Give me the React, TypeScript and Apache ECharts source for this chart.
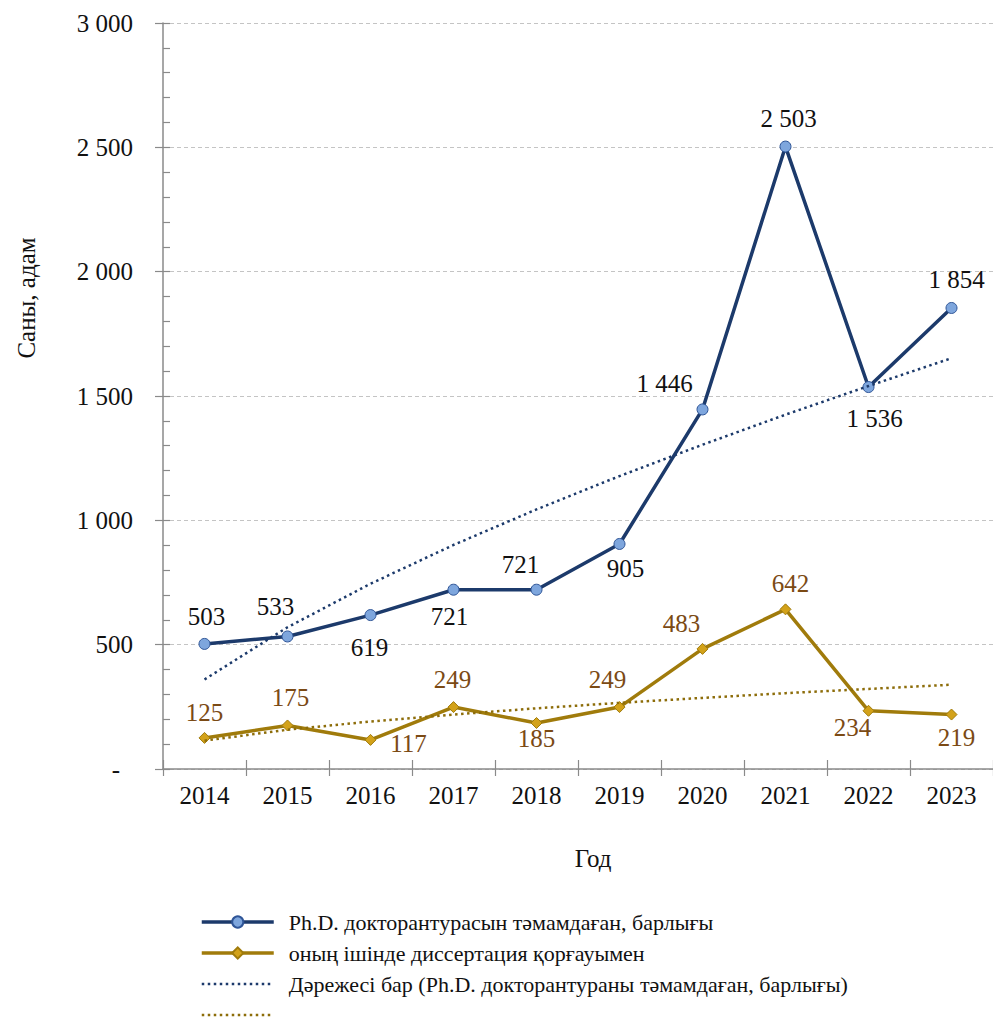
import React, { useEffect, useRef } from 'react';
import * as echarts from 'echarts';

// ---- data ----
const years = ['2014', '2015', '2016', '2017', '2018', '2019', '2020', '2021', '2022', '2023'];
const phdTotal = [503, 533, 619, 721, 721, 905, 1446, 2503, 1536, 1854];
const withDefense = [125, 175, 117, 249, 185, 249, 483, 642, 234, 219];
// power trendlines as drawn in the reference
const phdTrend = [360, 570, 745, 901, 1044, 1178, 1304, 1425, 1540, 1652];
const defenseTrend = [114, 158, 191, 219, 244, 266, 286, 305, 322, 339];

const nameTotal = 'Ph.D. докторантурасын тәмамдаған, барлығы';
const nameDefense = 'оның ішінде диссертация қорғауымен';
const nameTrendTotal = 'Дәрежесі бар (Ph.D. докторантураны тәмамдаған, барлығы)';
const nameTrendDefense = ' ';
const yAxisTitle = 'Саны, адам';
const xAxisTitle = 'Год';

// label placement (pixel offsets of each value label from its point)
const totalLabelOffsets = [
  [2, -27], [-12, -30], [-1, 32], [-4, 27], [-16, -25],
  [6, 25], [-38, -26], [3, -28], [6, 31], [5, -28],
];
const defenseLabelOffsets = [
  [0, -25], [3, -28], [38, 4], [-1, -28], [0, 16],
  [-12, -28], [-21, -25], [5, -26], [-16, 17], [5, 23],
];

const FONT = 'Liberation Serif';
const BLUE = '#1c3a6b';
const GOLD = '#a07b0b';
const GOLD_LABEL = '#7b4a14';

const fmt = (v: number) => String(v).replace(/\B(?=(\d{3})+(?!\d))/g, ' ');

export default function App() {
  const ref = useRef<HTMLDivElement>(null);

  useEffect(() => {
    const chart = echarts.init(ref.current!, null, { renderer: 'svg' });
    const option: any = {
      animation: false,
      backgroundColor: '#ffffff',
      textStyle: { fontFamily: FONT },
      grid: { left: 163, right: 0, top: 23, bottom: 249 },
      xAxis: [
        {
          type: 'category',
          data: years,
          boundaryGap: true,
          axisLine: { show: true, lineStyle: { color: '#8a8a8a', width: 1.5 } },
          axisTick: { show: true, inside: false, length: 7, lineStyle: { color: '#8a8a8a', width: 1.2 } },
          axisLabel: { fontFamily: FONT, fontSize: 25, color: '#111', margin: 14 },
          splitLine: { show: false },
        },
        {
          type: 'category',
          data: years,
          position: 'bottom',
          boundaryGap: true,
          axisLine: { show: false },
          axisTick: { show: true, inside: true, length: 9, lineStyle: { color: '#8a8a8a', width: 1.2 } },
          axisLabel: { show: false },
          splitLine: { show: false },
        },
      ],
      yAxis: [
        {
          type: 'value',
          min: 0,
          max: 3000,
          interval: 500,
          axisLine: { show: true, lineStyle: { color: '#8a8a8a', width: 1.5 } },
          axisTick: { show: true, inside: false, length: 8, lineStyle: { color: '#8a8a8a', width: 1.2 } },
          axisLabel: {
            fontFamily: FONT,
            fontSize: 25,
            color: '#111',
            margin: 30,
            formatter: (v: number) => (v === 0 ? '{z|-}' : fmt(v)),
            rich: { z: { fontFamily: FONT, fontSize: 25, color: '#111', padding: [0, 13, 0, 0] } },
          },
          splitLine: { show: true, lineStyle: { color: '#c4c4c4', type: [4, 3], width: 1 } },
        },
        {
          type: 'value',
          min: 0,
          max: 3000,
          interval: 100,
          position: 'left',
          axisLine: { show: false },
          axisTick: { show: true, inside: true, length: 7, lineStyle: { color: '#8a8a8a', width: 1.2 } },
          axisLabel: { show: false },
          splitLine: { show: false },
        },
      ],
      legend: {
        orient: 'vertical',
        left: 200,
        top: 911,
        height: 140,
        padding: 0,
        itemWidth: 72,
        itemHeight: 14,
        itemGap: 9,
        selectedMode: false,
        textStyle: { fontFamily: FONT, fontSize: 22, color: '#111', lineHeight: 22, padding: [0, 0, 0, 10] },
        data: [
          { name: nameTotal, lineStyle: { width: 3.5 } },
          { name: nameDefense, lineStyle: { width: 3.5 } },
          { name: nameTrendTotal, lineStyle: { width: 2.5 }, itemStyle: { opacity: 0 } },
          { name: nameTrendDefense, lineStyle: { width: 2.5 }, itemStyle: { opacity: 0 } },
        ],
      },
      graphic: [
        {
          type: 'text',
          x: 26,
          y: 298,
          rotation: Math.PI / 2,
          style: {
            text: yAxisTitle,
            fontFamily: FONT,
            fontSize: 25,
            fill: '#111',
            textAlign: 'center',
            textVerticalAlign: 'middle',
          },
        },
        {
          type: 'text',
          x: 593,
          y: 858,
          style: {
            text: xAxisTitle,
            fontFamily: FONT,
            fontSize: 25,
            fill: '#111',
            textAlign: 'center',
            textVerticalAlign: 'middle',
          },
        },
      ],
      series: [
        {
          name: nameTotal,
          type: 'line',
          data: phdTotal.map((v, i) => ({ value: v, label: { offset: totalLabelOffsets[i] } })),
          symbol: 'circle',
          symbolSize: 11,
          lineStyle: { color: BLUE, width: 3.5 },
          itemStyle: { color: '#7ea6dd', borderColor: '#2f5597', borderWidth: 1 },
          label: {
            show: true,
            position: 'inside',
            formatter: (p: any) => fmt(p.value),
            fontFamily: FONT,
            fontSize: 25,
            color: '#111',
            textBorderWidth: 0,
          },
          z: 2,
        },
        {
          name: nameDefense,
          type: 'line',
          data: withDefense.map((v, i) => ({ value: v, label: { offset: defenseLabelOffsets[i] } })),
          symbol: 'diamond',
          symbolSize: 11,
          lineStyle: { color: GOLD, width: 3.5 },
          itemStyle: { color: '#d3a21a', borderColor: '#a07b0b', borderWidth: 1 },
          label: {
            show: true,
            position: 'inside',
            formatter: (p: any) => fmt(p.value),
            fontFamily: FONT,
            fontSize: 25,
            color: GOLD_LABEL,
            textBorderWidth: 0,
          },
          z: 2,
        },
        {
          name: nameTrendTotal,
          type: 'line',
          data: phdTrend,
          symbol: 'none',
          smooth: false,
          lineStyle: { color: BLUE, width: 2.5, type: [2.5, 3.5] },
          itemStyle: { color: BLUE },
          silent: true,
          z: 3,
        },
        {
          name: nameTrendDefense,
          type: 'line',
          data: defenseTrend,
          symbol: 'none',
          smooth: false,
          lineStyle: { color: '#8d6d0a', width: 2.5, type: [2.5, 3.5] },
          itemStyle: { color: '#8d6d0a' },
          silent: true,
          z: 3,
        },
      ],
    };
    chart.setOption(option);
    return () => chart.dispose();
  }, []);

  return (
    <div
      ref={ref}
      style={{ position: 'absolute', left: 0, top: 0, width: 993, height: 1018, background: '#fff' }}
    />
  );
}
